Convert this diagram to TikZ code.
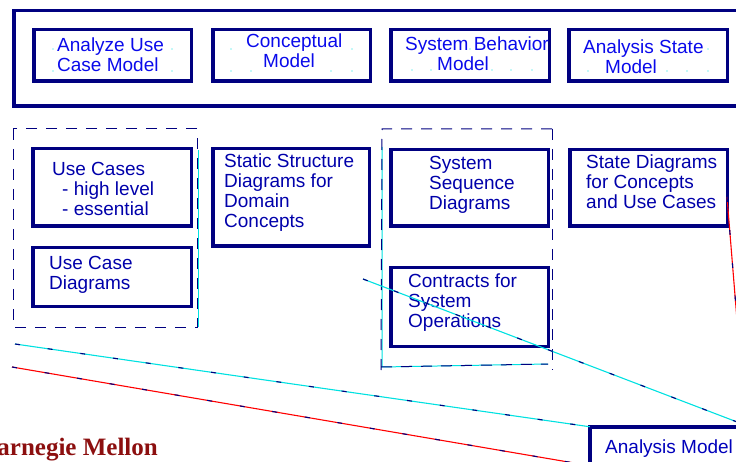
\documentclass[tikz,border=0pt]{standalone}
\usepackage{fontspec}
\setmainfont{Liberation Sans}
\newfontfamily\cmufont{Liberation Serif}
\definecolor{boxnavy}{RGB}{0,0,128}
\definecolor{topblue}{RGB}{10,10,235}
\definecolor{lowblue}{RGB}{0,0,170}
\definecolor{ghostcyan}{RGB}{0,225,225}
\definecolor{cmured}{RGB}{140,15,15}

\tikzset{
  box/.style={draw=boxnavy, line width=3.5pt, inner sep=0pt, outer sep=0pt, anchor=north west},
  txt/.style={inner sep=0pt, anchor=base west, align=left, text=lowblue,
    font=\fontsize{19}{20}\selectfont},
  dashbox/.style={draw=boxnavy, line width=1pt, dash pattern=on 11pt off 9pt},
  stray/.style={line width=1.1pt, postaction={draw=boxnavy, dash pattern=on 5pt off 28pt}}
}

\begin{document}
\begin{tikzpicture}[x=1pt, y=-1pt]
  \path[use as bounding box] (0,0) rectangle (736,462);
  \clip (0,0) rectangle (736,462);

  %%%%% MODELS %%%%%
  \node[box, minimum width=760pt, minimum height=95.5pt] (analysis) at (13.75,10.75) {};

  \node[box, minimum width=157.5pt, minimum height=51.5pt] (ucmodel) at (33.75,29.75) {};
  \node[box, minimum width=157.5pt, minimum height=51.5pt] (concept) at (212.75,29.75) {};
  \node[box, minimum width=158.5pt, minimum height=51.5pt] (sysbeh) at (390.75,29.75) {};
  \node[box, minimum width=158.5pt, minimum height=51.5pt] (anstate) at (568.75,29.75) {};

  % cyan specks left over from the text frames
  \foreach \px/\py in {53/49, 172/49, 53/71, 172/71,
      231/49, 352/49, 231/71, 251/71, 331/71, 352/71,
      470/49, 512/49, 532/49, 412/70, 431/70, 492/70, 511/70, 532/70,
      708/49, 588/71, 667/71, 687/71, 708/71}
    \fill[ghostcyan] (\px,\py) circle (0.6pt);

  \node[txt, text=topblue] (ucmodeltxt) at (57,72) {Analyze Use\\Case Model};
  \node[txt, text=topblue] (concepttxt) at (246,68) {Conceptual\\\hspace*{17pt}Model};
  \node[txt, text=topblue] (sysbehtxt) at (405,71) {System Behavior\\\hspace*{32pt}Model};
  \node[txt, text=topblue] (anstatetxt) at (583,74) {Analysis State\\\hspace*{22pt}Model};

  %%%%% ARTIFACTS %%%%%
  \node[box, minimum width=158.5pt, minimum height=77.5pt] (usecases) at (32.75,148.75) {};
  \node[box, minimum width=158.5pt, minimum height=58.5pt] (ucdiag) at (32.75,247.75) {};
  \node[box, minimum width=156.5pt, minimum height=97.5pt] (static) at (212.75,148.75) {};
  \node[box, minimum width=157.5pt, minimum height=76.5pt] (sysseq) at (390.75,149.75) {};
  \node[box, minimum width=157.5pt, minimum height=76.5pt] (statediag) at (569.75,149.75) {};
  \node[box, minimum width=157.5pt, minimum height=78.5pt] (contracts) at (390.75,267.75) {};
  \node[box, minimum width=200pt, minimum height=60pt] (anmodel) at (589.75,426.75) {};

  \node[txt] (usecasestxt) at (52,216) {Use Cases\\\hspace*{10pt}- high level\\\hspace*{10pt}- essential};
  \node[txt] (ucdiagtxt) at (49,290) {Use Case\\Diagrams};
  \node[txt] (statictxt) at (224,228) {Static Structure\\Diagrams for\\Domain\\Concepts};
  \node[txt] (sysseqtxt) at (429,210) {System\\Sequence\\Diagrams};
  \node[txt] (statediagtxt) at (586,209) {State Diagrams\\for Concepts\\and Use Cases};
  \node[txt] (contractstxt) at (408,327) {Contracts for\\System\\Operations};
  \node[txt, text=lowblue!80!blue] (anmodeltxt) at (605,453) {Analysis Model};

  %%%%% GROUPS %%%%%
  \draw[ghostcyan, line width=1pt] (198,150) -- (198,327);
  \draw[ghostcyan, line width=1pt] (382,147) -- (382,367) -- (548,364);
  \draw[dashbox] (13,129) rectangle (197,327);
  \draw[dashbox] (381,370) -- (382,129) -- (558,129);
  \draw[dashbox] (552,129) -- (552,370);
  \draw[dashbox] (381,367) -- (548,364);

  %%%%% STRAY LINES %%%%%
  \coordinate (sysop) at (363,279);
  \coordinate (sysopend) at (745,425);
  \coordinate (ucstart) at (15,344);
  \coordinate (redstart) at (12,367);
  \coordinate (redend) at (580,464);
  \coordinate (redstart2) at (727,197);
  \coordinate (redend2) at (737,320);
  \draw[stray, ghostcyan] (sysop) -- (sysopend);
  \draw[stray, ghostcyan] (ucstart) -- (anmodel.north west);
  \draw[stray, red] (redstart) -- (redend);
  \draw[stray, red] (redstart2) -- (redend2);

  \node[anchor=base east, inner sep=0pt, text=cmured,
    font=\cmufont\bfseries\fontsize{25}{25}\selectfont] (cmu) at (158,455) {Carnegie Mellon};
\end{tikzpicture}
\end{document}
